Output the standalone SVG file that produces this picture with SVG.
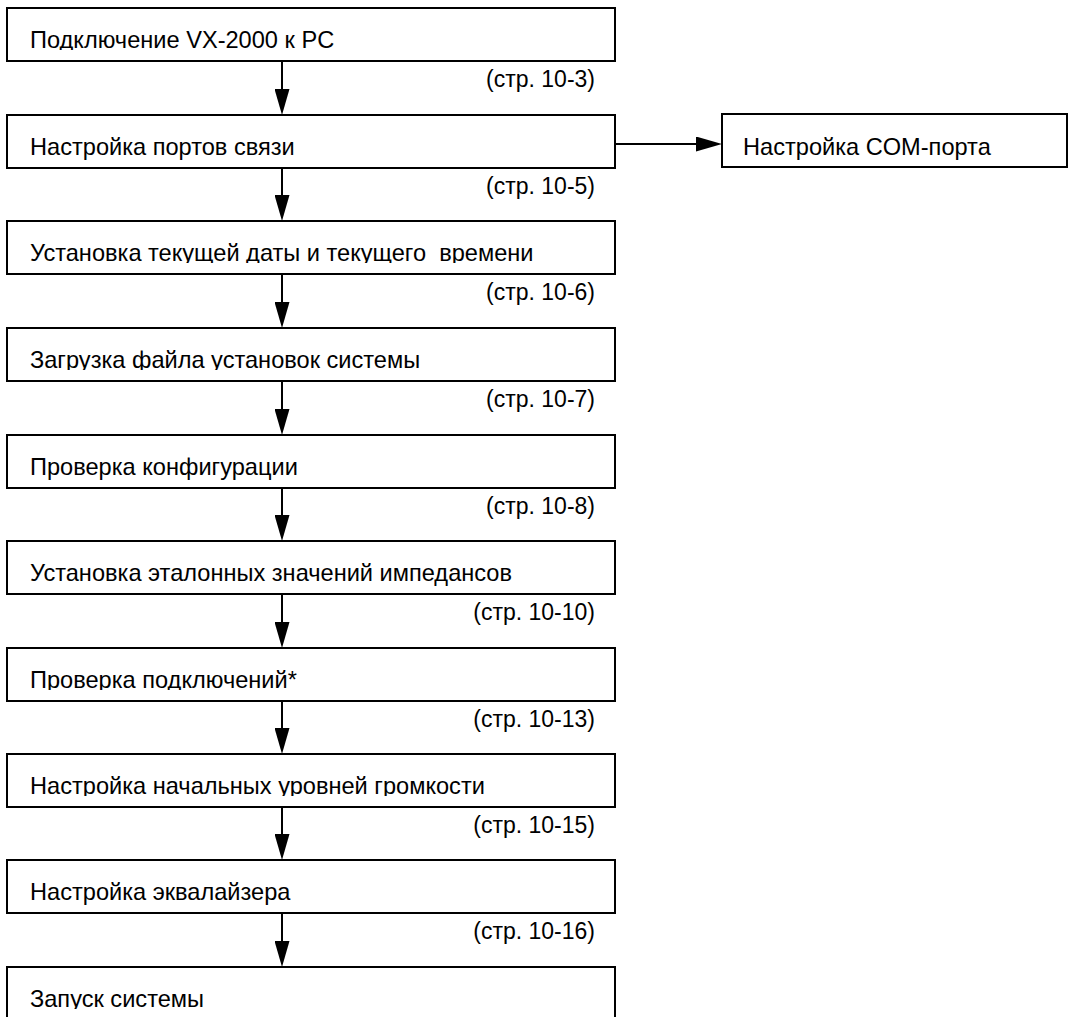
<svg xmlns="http://www.w3.org/2000/svg" width="1069" height="1017" viewBox="0 0 1069 1017">
<style>
.box{fill:#fff;stroke:#000;stroke-width:2}
.t{font-family:"Liberation Sans",Arial,sans-serif;font-size:23.6px;fill:#000}
.r{font-family:"Liberation Sans",Arial,sans-serif;font-size:23px;fill:#000;text-anchor:end}
.c{stroke:#000;stroke-width:2;fill:none;marker-end:url(#ah)}
</style>
<defs>
<marker id="ah" markerUnits="userSpaceOnUse" viewBox="0 0 26 15" refX="22" refY="7.5" markerWidth="26" markerHeight="15" orient="auto">
<path d="M0,0 L26,7.5 L0,15 Z" fill="#000"/>
</marker>
<clipPath id="c1"><rect x="0" y="8" width="620" height="42"/></clipPath>
<clipPath id="c3"><rect x="0" y="221" width="620" height="42"/></clipPath>
<clipPath id="c4"><rect x="0" y="328" width="620" height="42"/></clipPath>
<clipPath id="c7"><rect x="0" y="648" width="620" height="42"/></clipPath>
<clipPath id="c8"><rect x="0" y="754" width="620" height="42"/></clipPath>
<clipPath id="c10"><rect x="0" y="967" width="620" height="42"/></clipPath>
</defs>
<rect width="1069" height="1017" fill="#fff"/>
<g id="connectors">
<line class="c" x1="282" y1="61" x2="282" y2="111"/>
<line class="c" x1="282" y1="168" x2="282" y2="217"/>
<line class="c" x1="282" y1="274" x2="282" y2="324"/>
<line class="c" x1="282" y1="381" x2="282" y2="431"/>
<line class="c" x1="282" y1="488" x2="282" y2="537"/>
<line class="c" x1="282" y1="594" x2="282" y2="644"/>
<line class="c" x1="282" y1="701" x2="282" y2="750"/>
<line class="c" x1="282" y1="807" x2="282" y2="856"/>
<line class="c" x1="282" y1="913" x2="282" y2="963"/>
<line class="c" x1="615" y1="144" x2="718" y2="144"/>
</g>
<g id="n1"><rect class="box" x="7" y="8" width="608" height="53"/><text class="t" x="30" y="48" clip-path="url(#c1)">Подключение VX-2000 к PC</text><text class="r" x="595" y="87">(стр. 10-3)</text></g>
<g id="n2"><rect class="box" x="7" y="115" width="608" height="53"/><text class="t" x="30" y="155">Настройка портов связи</text><text class="r" x="595" y="194">(стр. 10-5)</text></g>
<g id="n2b"><rect class="box" x="722" y="114" width="345" height="53"/><text class="t" x="743" y="155">Настройка COM-порта</text></g>
<g id="n3"><rect class="box" x="7" y="221" width="608" height="53"/><text class="t" x="30" y="261" xml:space="preserve" clip-path="url(#c3)">Установка текущей даты и текущего  времени</text><text class="r" x="595" y="300">(стр. 10-6)</text></g>
<g id="n4"><rect class="box" x="7" y="328" width="608" height="53"/><text class="t" x="30" y="368" clip-path="url(#c4)">Загрузка файла установок системы</text><text class="r" x="595" y="407">(стр. 10-7)</text></g>
<g id="n5"><rect class="box" x="7" y="435" width="608" height="53"/><text class="t" x="30" y="475">Проверка конфигурации</text><text class="r" x="595" y="514">(стр. 10-8)</text></g>
<g id="n6"><rect class="box" x="7" y="541" width="608" height="53"/><text class="t" x="30" y="581">Установка эталонных значений импедансов</text><text class="r" x="595" y="620">(стр. 10-10)</text></g>
<g id="n7"><rect class="box" x="7" y="648" width="608" height="53"/><text class="t" x="30" y="688" clip-path="url(#c7)">Проверка подключений*</text><text class="r" x="595" y="727">(стр. 10-13)</text></g>
<g id="n8"><rect class="box" x="7" y="754" width="608" height="53"/><text class="t" x="30" y="794" clip-path="url(#c8)">Настройка начальных уровней громкости</text><text class="r" x="595" y="833">(стр. 10-15)</text></g>
<g id="n9"><rect class="box" x="7" y="860" width="608" height="53"/><text class="t" x="30" y="900">Настройка эквалайзера</text><text class="r" x="595" y="939">(стр. 10-16)</text></g>
<g id="n10"><rect class="box" x="7" y="967" width="608" height="70"/><text class="t" x="30" y="1007" clip-path="url(#c10)">Запуск системы</text></g>
</svg>
